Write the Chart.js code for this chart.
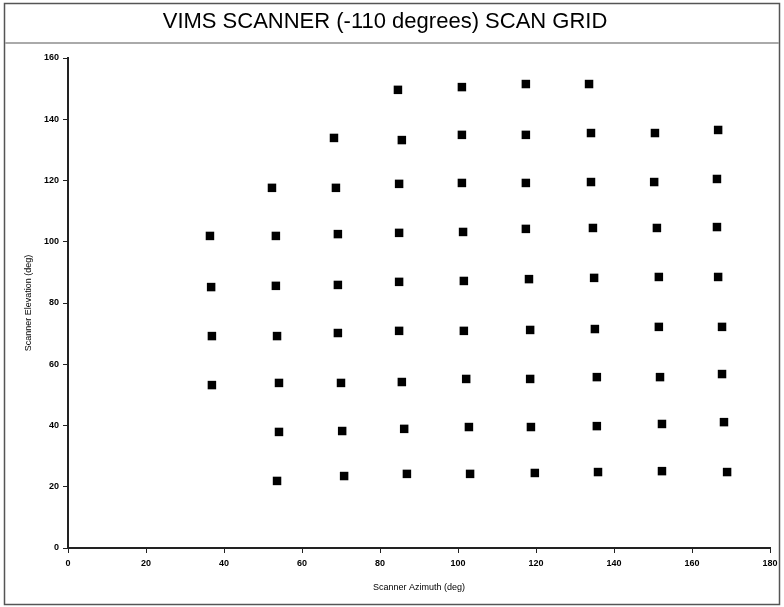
<!DOCTYPE html>
<html>
<head>
<meta charset="utf-8">
<script src="https://cdn.jsdelivr.net/npm/chart.js@4.4.1/dist/chart.umd.min.js"></script>
<style>
  html, body { margin: 0; padding: 0; background: #fff; }
  #wrap { position: relative; width: 784px; height: 607px; }
</style>
</head>
<body>
<div id="wrap"><canvas id="grafica" width="784" height="607"></canvas></div>
<script>
// ===============================
// DATOS DE LA REJILLA (una linea por columna)
// ===============================
const azimut = [
    36.4, 36.7, 36.9, 36.9,
    52.3, 53.3, 53.3, 53.6, 54.1, 54.1, 53.6,
    68.2, 68.7, 69.2, 69.2, 69.2, 70.0, 70.3, 70.8,
    84.6, 85.6, 84.9, 84.9, 84.9, 84.9, 85.6, 86.2, 86.9,
    101.0, 101.0, 101.0, 101.3, 101.5, 101.5, 102.1, 102.8, 103.1,
    117.4, 117.4, 117.4, 117.4, 118.2, 118.5, 118.5, 118.7, 119.7,
    133.6, 134.1, 134.1, 134.6, 134.9, 135.1, 135.6, 135.6, 135.9,
    150.5, 150.3, 151.0, 151.5, 151.5, 151.8, 152.3, 152.3,
    166.7, 166.4, 166.4, 166.7, 167.7, 167.7, 168.2, 169.0
];
const elevacion = [
    101.9, 85.2, 69.2, 53.2,
    117.6, 101.9, 85.6, 69.2, 53.9, 37.9, 21.9,
    133.9, 117.6, 102.5, 85.9, 70.2, 53.9, 38.2, 23.5,
    149.6, 133.2, 118.9, 102.9, 86.9, 70.9, 54.2, 38.9, 24.2,
    150.5, 134.9, 119.2, 103.2, 87.2, 70.9, 55.2, 39.5, 24.2,
    151.5, 134.9, 119.2, 104.2, 87.8, 71.2, 55.2, 39.5, 24.5,
    151.5, 135.5, 119.5, 104.5, 88.2, 71.5, 55.8, 39.8, 24.8,
    135.5, 119.5, 104.5, 88.5, 72.2, 55.8, 40.5, 25.1,
    136.5, 120.5, 104.8, 88.5, 72.2, 56.8, 41.1, 24.8
];

const titulo = "VIMS SCANNER (-110 degrees) SCAN GRID";
const tituloX = "Scanner Azimuth (deg)";
const tituloY = "Scanner Elevation (deg)";
const rangoX = [0, 180];
const rangoY = [0, 160];
const paso = 20;

// ===============================
// MARCO (borde exterior y linea bajo el titulo)
// ===============================
const marco = {
    id: "marco",
    beforeDraw(chart) {
        const c = chart.ctx;
        c.save();
        c.strokeStyle = "#555";
        c.lineWidth = 1.5;
        c.strokeRect(4.5, 3.5, 775, 601);
        c.strokeStyle = "#aaa";
        c.lineWidth = 2;
        c.beginPath();
        c.moveTo(5, 43);
        c.lineTo(779, 43);
        c.stroke();
        c.restore();
    }
};

const puntos = azimut.map((x, i) => ({ x: x, y: elevacion[i] }));

const ctx = document.getElementById("grafica").getContext("2d");

const ejeComun = {
    border: { display: true, color: "#222", width: 2 },
    grid: { display: true, drawOnChartArea: false, drawTicks: true, tickLength: 5, color: "#222", lineWidth: 1 },
    ticks: { stepSize: paso, color: "#000", font: { family: "Liberation Sans", size: 9, weight: "bold" } }
};

new Chart(ctx, {
    type: "scatter",
    data: {
        datasets: [{
            data: puntos,
            pointStyle: "rect",
            pointRadius: 6,
            pointHoverRadius: 6,
            backgroundColor: "#000",
            borderColor: "#000",
            borderWidth: 0
        }]
    },
    options: {
        responsive: false,
        animation: false,
        layout: { padding: { left: 0, right: 14, top: 0, bottom: 0 } },
        plugins: {
            legend: { display: false },
            tooltip: { enabled: false },
            title: {
                display: true,
                text: titulo,
                color: "#000",
                font: { family: "Liberation Sans", size: 22, weight: "normal" },
                padding: { top: 9, bottom: 22.6 }
            }
        },
        scales: {
            x: {
                ...ejeComun,
                type: "linear",
                min: rangoX[0],
                max: rangoX[1],
                ticks: { ...ejeComun.ticks, padding: 5, maxRotation: 0 },
                title: {
                    display: true,
                    text: tituloX,
                    color: "#000",
                    font: { family: "Liberation Sans", size: 9 },
                    padding: { top: 0, bottom: 14 }
                },
                afterFit(scale) { scale.height = 59; }
            },
            y: {
                ...ejeComun,
                type: "linear",
                min: rangoY[0],
                max: rangoY[1],
                ticks: { ...ejeComun.ticks, padding: 4 },
                title: {
                    display: true,
                    text: tituloY,
                    color: "#000",
                    font: { family: "Liberation Sans", size: 9 },
                    padding: { top: 23, bottom: 0 }
                },
                afterFit(scale) { scale.width = 68; }
            }
        }
    },
    plugins: [marco]
});
</script>
</body>
</html>
